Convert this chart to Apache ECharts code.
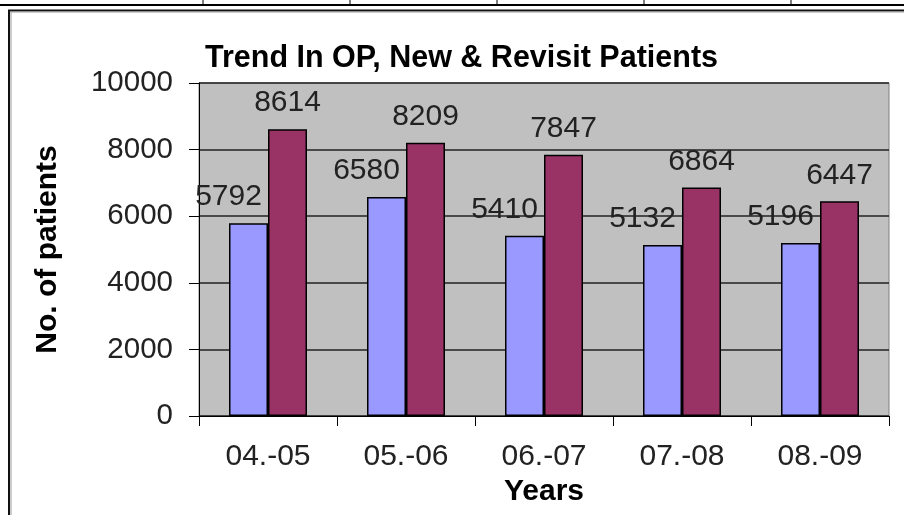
<!DOCTYPE html>
<html>
<head>
<meta charset="utf-8">
<script src="https://cdn.jsdelivr.net/npm/echarts@6/dist/echarts.min.js"></script>
<style>
html,body{margin:0;padding:0;background:#fff;}
#chart{width:904px;height:515px;}
</style>
</head>
<body>
<div id="chart"></div>
<script>
var categories = ['04.-05', '05.-06', '06.-07', '07.-08', '08.-09'];
var newPatients = [5792, 6580, 5410, 5132, 5196];
var revisitPatients = [8614, 8209, 7847, 6864, 6447];
var yTicks = [0, 2000, 4000, 6000, 8000, 10000];

var FONT = '"Liberation Sans", Arial, sans-serif';
var chart = echarts.init(document.getElementById('chart'), null, {renderer: 'canvas'});

chart.setOption({
  animation: false,
  backgroundColor: '#ffffff',
  title: {
    text: 'Trend In OP, New & Revisit Patients',
    left: 200,
    top: 38,
    textStyle: {fontFamily: FONT, fontSize: 30.5, fontWeight: 'bold', color: '#000'}
  },
  graphic: [
    {type: 'line', shape: {x1: 0, y1: 5, x2: 904, y2: 5}, style: {stroke: '#000', lineWidth: 2}},
    {type: 'line', shape: {x1: 203, y1: 0, x2: 203, y2: 6}, style: {stroke: '#000', lineWidth: 1}},
    {type: 'line', shape: {x1: 350, y1: 0, x2: 350, y2: 6}, style: {stroke: '#000', lineWidth: 1}},
    {type: 'line', shape: {x1: 497, y1: 0, x2: 497, y2: 6}, style: {stroke: '#000', lineWidth: 1}},
    {type: 'line', shape: {x1: 644, y1: 0, x2: 644, y2: 6}, style: {stroke: '#000', lineWidth: 1}},
    {type: 'line', shape: {x1: 791, y1: 0, x2: 791, y2: 6}, style: {stroke: '#000', lineWidth: 1}},
    {type: 'polyline', shape: {points: [[9, 515], [9, 10.5], [904, 10.5]]}, style: {stroke: '#111', lineWidth: 2, fill: null}},
    {type: 'polyline', shape: {points: [[11, 515], [11, 12], [904, 12]]}, style: {stroke: '#999', lineWidth: 1, fill: null}}
  ],
  grid: {
    left: 199, top: 83, right: 15, bottom: 99,
    show: true, backgroundColor: '#C0C0C0', borderColor: '#808080', borderWidth: 1
  },
  xAxis: {
    type: 'category',
    data: categories,
    boundaryGap: true,
    name: 'Years',
    nameLocation: 'middle',
    nameGap: 52,
    nameTextStyle: {fontFamily: FONT, fontSize: 30, fontWeight: 'bold', color: '#000'},
    axisLine: {show: true, lineStyle: {color: '#000', width: 1}},
    axisTick: {show: true, length: 10, lineStyle: {color: '#000', width: 1}},
    axisLabel: {fontFamily: FONT, fontSize: 30, color: '#222', margin: 26},
    splitLine: {show: false}
  },
  yAxis: {
    type: 'value',
    min: yTicks[0],
    max: yTicks[yTicks.length - 1],
    interval: yTicks[1] - yTicks[0],
    name: 'No. of patients',
    nameLocation: 'middle',
    nameGap: 136,
    nameTextStyle: {fontFamily: FONT, fontSize: 30, fontWeight: 'bold', color: '#000'},
    axisLine: {show: true, lineStyle: {color: '#000', width: 1}},
    axisTick: {show: true, length: 10, lineStyle: {color: '#000', width: 1}},
    axisLabel: {fontFamily: FONT, fontSize: 29.5, color: '#222', margin: 26,
      formatter: function (v) { return String(v); }},
    splitLine: {show: true, lineStyle: {color: '#222', width: 1.5}}
  },
  series: [
    {
      name: 'New',
      type: 'bar',
      data: newPatients,
      barWidth: 39,
      barGap: '0%',
      itemStyle: {color: '#9999FF', borderColor: '#000', borderWidth: 1.5},
      label: {show: true, position: 'top', distance: 11, offset: [-20, 0],
        fontFamily: FONT, fontSize: 30, color: '#222'}
    },
    {
      name: 'Revisit',
      type: 'bar',
      data: revisitPatients,
      barWidth: 39,
      barGap: '0%',
      itemStyle: {color: '#993366', borderColor: '#000', borderWidth: 1.5},
      label: {show: true, position: 'top', distance: 11,
        fontFamily: FONT, fontSize: 30, color: '#222'}
    }
  ]
});
</script>
</body>
</html>
